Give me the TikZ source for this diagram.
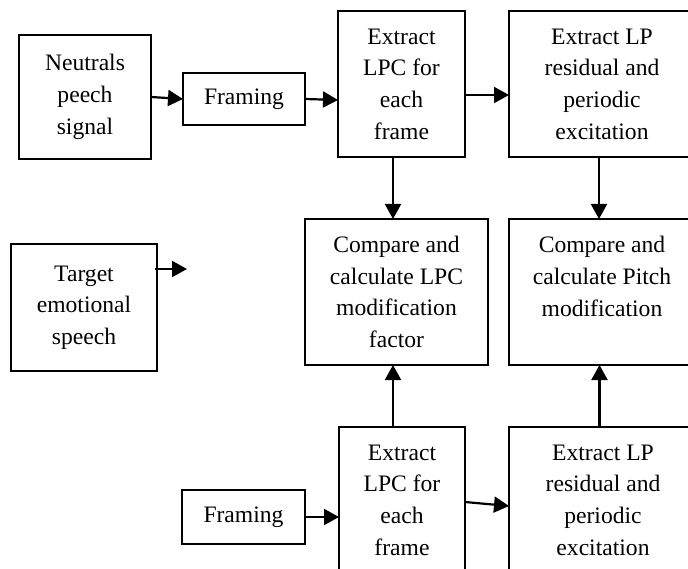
\documentclass[tikz,border=0pt]{standalone}
\usepackage{fontspec}
\setmainfont{Liberation Serif}
\usetikzlibrary{arrows.meta,calc}
\begin{document}
\begin{tikzpicture}[x=1pt,y=-1pt,
  box/.style={draw,line width=1.4pt,inner sep=0pt,outer sep=0pt,align=center,
    anchor=north west,font=\fontsize{23.6}{31.7}\selectfont},
  arr/.style={line width=2.2pt,-{Triangle[length=15pt,width=16pt]}}]
\useasboundingbox (0,0) rectangle (688,569);
\clip (0,0) rectangle (688,569);
% top row
\node[box,minimum width=132pt,minimum height=124pt] (neutral) at (19,35) {Neutrals\\peech\\signal};
\node[box,minimum width=122pt,minimum height=52pt] (frame1) at (183,73) {Framing};
\node[box,minimum width=127pt,minimum height=146pt] (lpc1) at (338,11) {Extract\\LPC for\\each\\frame};
\node[box,minimum width=186pt,minimum height=146pt] (lp1) at (509,11) {Extract LP\\residual and\\periodic\\excitation};
% middle row
\node[box,minimum width=146pt,minimum height=127pt] (target) at (11,244) {Target\\emotional\\speech};
\node[box,minimum width=183pt,minimum height=146pt] (cmp1) at (305,219) {Compare and\\calculate LPC\\modification\\factor};
\node[box,minimum width=186pt,minimum height=146pt] (cmp2) at (509,219) {Compare and\\calculate Pitch\\modification\\\mbox{}};
% bottom row
\node[box,minimum width=123pt,minimum height=54pt] (frame2) at (182,490) {Framing};
\node[box,minimum width=126pt,minimum height=146pt] (lpc2) at (339,427) {Extract\\LPC for\\each\\frame};
\node[box,minimum width=188pt,minimum height=146pt] (lp2) at (509,427) {Extract LP\\residual and\\periodic\\excitation};
\coordinate (tend) at (187,269);
% connectors
\draw[arr] (neutral.east) -- (frame1.west);
\draw[arr] (frame1.east) -- ([yshift=-16pt]lpc1.west);
\draw[arr] ([yshift=-11pt]lpc1.east) -- ([yshift=-11pt]lp1.west);
\draw[arr] ([xshift=-8.5pt]lpc1.south) -- ([xshift=-8.5pt]lpc1.south |- cmp1.north);
\draw[arr] ([xshift=-3pt]lp1.south) -- ([xshift=-3pt]lp1.south |- cmp2.north);
\draw[arr] ([xshift=-2pt]target.east |- tend) -- (tend);
\draw[arr] (frame2.east) -- (lpc2.west |- frame2.east);
\draw[arr] ([yshift=-2pt]lpc2.east) -- ([yshift=-6pt]lp2.west);
\draw[arr] ([xshift=-9pt]lpc2.south |- lpc2.north) -- ([xshift=-9pt]lpc2.south |- cmp1.south);
\draw[arr] ([xshift=-3.5pt]lp2.north) -- ([xshift=-3.5pt]lp2.north |- cmp2.south);
\end{tikzpicture}
\end{document}
